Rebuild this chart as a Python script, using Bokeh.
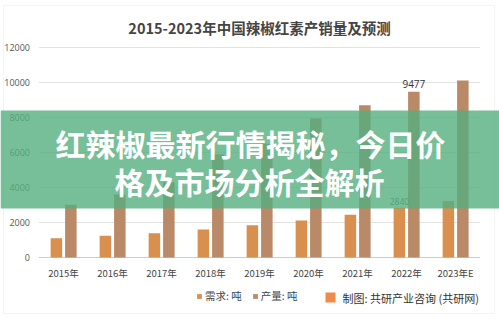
from bokeh.plotting import figure
from bokeh.models import (ColumnDataSource, BoxAnnotation, Label, Legend, LegendItem, Range1d)
from bokeh.core.properties import value
from bokeh.transform import dodge
from bokeh.embed import file_html
from bokeh.resources import INLINE

years = ["2015年", "2016年", "2017年", "2018年", "2019年", "2020年", "2021年", "2022年", "2023年E"]
demand = [1100, 1250, 1390, 1600, 1850, 2110, 2440, 2840, 3230]
production = [3020, 3600, 4300, 5900, 6500, 7940, 8700, 9477, 10110]
y_ticks = [0, 2000, 4000, 6000, 8000, 10000, 12000]
title_text = "2015-2023年中国辣椒红素产销量及预测"
overlay_line1 = "红辣椒最新行情揭秘，今日价"
overlay_line2 = "格及市场分析全解析"
legend_names = ["需求: 吨", "产量: 吨"]
credit = "制图: 共研产业咨询 (共研网)"
labelled_year = "2022年"

CJK = "Noto Sans CJK SC"
NUM = "Open Sans"
DEM_C = "#D98F4E"
PRO_C = "#BA8968"

W, H = 499, 319
# plot area in pixels: x 38.5..479.5, y 47 (top value) .. 257 (zero)
n = len(years)
px_per_cat = 49.0
x_start = -0.5 - 38.5 / px_per_cat
x_end = x_start + W / px_per_cat
y_top_val = y_ticks[-1]
px_per_unit = (257 - 47) / y_top_val
y_start = -(H - 257) / px_per_unit
y_end = y_top_val + 47 / px_per_unit

idx = list(range(n))
src = ColumnDataSource(dict(
    x=idx, years=years, demand=demand, production=production,
    dlab=[str(d) if y == labelled_year else "" for y, d in zip(years, demand)],
    plab=[str(v) if y == labelled_year else "" for y, v in zip(years, production)],
    zero=[0] * n))
tick_src = ColumnDataSource(dict(y=y_ticks, lab=[str(t) for t in y_ticks],
                                 x0=[-0.5] * len(y_ticks), x1=[n - 0.5] * len(y_ticks)))

p = figure(width=W, height=H, x_range=Range1d(x_start, x_end), y_range=Range1d(y_start, y_end),
           output_backend="svg", toolbar_location=None, min_border=0,
           x_axis_location=None, y_axis_location=None)
p.outline_line_color = None
p.xgrid.visible = False
p.ygrid.visible = False
p.background_fill_color = "white"
p.border_fill_color = "white"

# grid lines and axis line
p.segment(x0="x0", x1="x1", y0="y", y1="y", source=tick_src, line_color="#e2e2e2", line_width=1)
p.segment(x0=[-0.5], x1=[n - 0.5], y0=[0], y1=[0], line_color="#cccccc", line_width=1)

# y tick labels
p.text(x="x0", y="y", text="lab", source=tick_src, text_align="right", text_baseline="middle",
       x_offset=-9, text_font=value(NUM), text_font_size="9px", text_color="#555")
# x tick labels
p.text(x="x", y="zero", text="years", source=src, text_align="center", text_baseline="middle",
       y_offset=15, text_font=value(CJK), text_font_size="9.5px", text_color="#444")

r1 = p.vbar(x=dodge("x", -0.145), top="demand", width=0.235, source=src,
            fill_color=DEM_C, line_color=None)
r2 = p.vbar(x=dodge("x", 0.15), top="production", width=0.235, source=src,
            fill_color=PRO_C, line_color=None)

p.text(x=dodge("x", -0.145), y="demand", text="dlab", source=src, text_align="center",
       text_baseline="bottom", y_offset=-3, text_font=value(NUM), text_font_size="8.5px",
       text_color="#555")
p.text(x=dodge("x", 0.15), y="production", text="plab", source=src, text_align="center",
       text_baseline="bottom", y_offset=-4, text_font=value(NUM), text_font_size="10px",
       text_color="#333")

p.add_layout(Label(x=259, y=27, x_units="canvas", y_units="canvas", text=title_text,
                   text_align="center", text_baseline="middle", text_font=CJK,
                   text_font_size="14.5px", text_font_style="bold", text_color="#444"))

leg = Legend(items=[LegendItem(label=legend_names[0], renderers=[r1]),
                    LegendItem(label=legend_names[1], renderers=[r2])],
             orientation="horizontal", location=(196, 16), glyph_width=6, glyph_height=6,
             label_text_font=CJK, label_text_font_size="10.5px", label_text_color="#444",
             background_fill_alpha=0, border_line_color=None, spacing=10, label_standoff=3,
             padding=0, margin=0, label_height=10, label_text_baseline="middle")
p.add_layout(leg)

p.add_layout(BoxAnnotation(left=325, right=335, top=292, bottom=302, left_units="canvas",
                           right_units="canvas", top_units="canvas", bottom_units="canvas",
                           fill_color="#F08A4B", fill_alpha=1, line_color=None))
p.add_layout(Label(x=342, y=297, x_units="canvas", y_units="canvas", text=credit,
                   text_baseline="middle", text_font=CJK, text_font_size="11px",
                   text_color="#333"))

# outer border
p.add_layout(BoxAnnotation(left=3, right=494, top=5, bottom=313, left_units="canvas",
                           right_units="canvas", top_units="canvas", bottom_units="canvas",
                           fill_alpha=0, line_color="#dcdcdc", line_width=1))

# overlay band
p.add_layout(BoxAnnotation(left=0, right=W, top=110, bottom=208, left_units="canvas",
                           right_units="canvas", top_units="canvas", bottom_units="canvas",
                           fill_color="#55AF80", fill_alpha=0.8, line_color=None))
p.add_layout(Label(x=250, y=142, x_units="canvas", y_units="canvas", text=overlay_line1,
                   text_align="center", text_baseline="middle", text_font=CJK,
                   text_font_size="30px", text_font_style="bold", text_color="white"))
p.add_layout(Label(x=249, y=180, x_units="canvas", y_units="canvas", text=overlay_line2,
                   text_align="center", text_baseline="middle", text_font=CJK,
                   text_font_size="30px", text_font_style="bold", text_color="white"))

open("out.html", "w").write(file_html(p, INLINE))
